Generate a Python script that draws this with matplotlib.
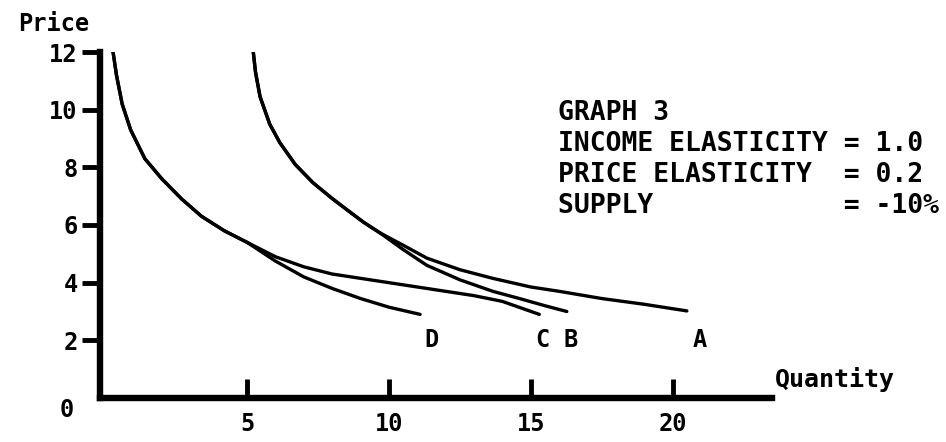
import matplotlib
matplotlib.use("Agg")
import matplotlib.pyplot as plt

# curve readings (quantity, price) taken off the scanned graph
left_q = [0.28, 0.4, 0.6, 0.9, 1.4, 2.0, 2.7, 3.4, 4.2, 5.0]
left_p = [12.0, 11.2, 10.2, 9.3, 8.3, 7.6, 6.9, 6.3, 5.8, 5.4]

d_q = left_q + [6.0, 7.0, 8.0, 9.0, 10.0, 11.1]
d_p = left_p + [4.75, 4.2, 3.8, 3.45, 3.15, 2.9]

c_q = left_q + [6.0, 7.0, 8.0, 9.0, 10.0, 11.0, 12.0, 13.0, 14.0, 15.3]
c_p = left_p + [4.9, 4.55, 4.3, 4.15, 4.0, 3.85, 3.7, 3.55, 3.35, 2.9]

right_q = [5.21, 5.3, 5.46, 5.8, 6.16, 6.7, 7.32, 8.0, 8.52, 9.1, 9.68]
right_p = [12.1, 11.3, 10.45, 9.5, 8.85, 8.1, 7.47, 6.92, 6.53, 6.1, 5.73]

a_q = right_q + [10.5, 11.34, 12.5, 13.66, 15.0, 16.0, 17.5, 19.0, 20.5]
a_p = right_p + [5.3, 4.85, 4.45, 4.15, 3.85, 3.7, 3.45, 3.25, 3.02]

b_q = right_q + [10.5, 11.34, 12.5, 13.66, 14.6, 15.5, 16.27]
b_p = right_p + [5.15, 4.6, 4.1, 3.7, 3.45, 3.2, 3.0]

curve_names = ["D", "C", "B", "A"]
label_q = [11.5, 15.4, 16.4, 20.95]
label_p = [2.0, 2.0, 2.0, 2.0]

x_ticks = [5, 10, 15, 20]
y_ticks = [2, 4, 6, 8, 10, 12]

info_lines = ["GRAPH 3",
              "INCOME ELASTICITY = 1.0",
              "PRICE ELASTICITY  = 0.2",
              "SUPPLY            = -10%"]

FONT = "DejaVu Sans Mono"
W, H = 946, 442

fig = plt.figure(figsize=(W / 100, H / 100), dpi=100)
ax = fig.add_axes([100 / W, 44 / H, 672 / W, 346 / H])

for q, p in [(d_q, d_p), (c_q, c_p), (b_q, b_p), (a_q, a_p)]:
    ax.plot(q, p, color="black", lw=2.4, solid_capstyle="round")

for name, q, p in zip(curve_names, label_q, label_p):
    ax.text(q, p, name, ha="center", va="center", fontsize=17,
            family=FONT, weight="bold")

ax.set_xlim(-0.18, 23.5)
ax.set_ylim(0, 12)
for side in ["top", "right"]:
    ax.spines[side].set_visible(False)
for side in ["left", "bottom"]:
    ax.spines[side].set_linewidth(4.6)

ax.set_xticks(x_ticks)
ax.set_yticks(y_ticks)
ax.tick_params(axis="x", direction="in", length=14, width=3.5, pad=10)
ax.tick_params(axis="y", direction="out", length=13, width=3.5, pad=3)
for lab in ax.get_xticklabels() + ax.get_yticklabels():
    lab.set_fontfamily(FONT)
    lab.set_fontweight("bold")
    lab.set_fontsize(17)

ax.text(-1.35, -0.4, "0", ha="center", va="center", fontsize=17,
        family=FONT, weight="bold", clip_on=False)

fig.text(18 / W, 1 - 24 / H, "Price", ha="left", va="center",
         fontsize=17, family=FONT, weight="bold")
fig.text(775 / W, 1 - 380 / H, "Quantity", ha="left", va="center",
         fontsize=18, family=FONT, weight="bold")

for i, line in enumerate(info_lines):
    fig.text(558 / W, 1 - (113 + 31 * i) / H, line, ha="left", va="center",
             fontsize=19, family=FONT, weight="bold")

fig.savefig("out.png", dpi=100, facecolor="white")
